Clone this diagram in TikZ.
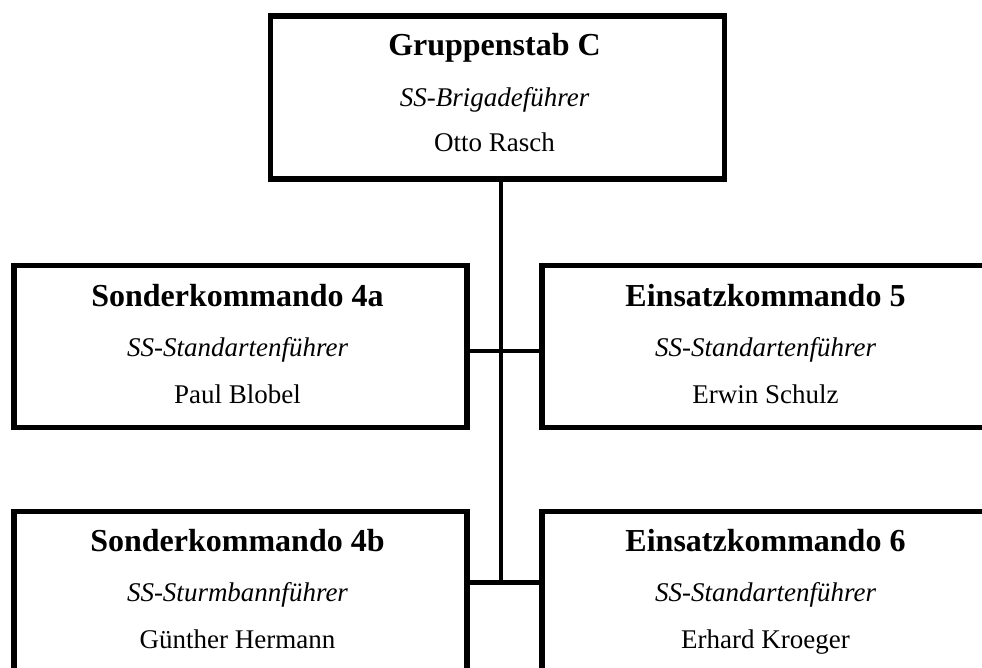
\documentclass[tikz,border=0pt]{standalone}
\usepackage{fontspec}
\setmainfont{Liberation Serif}
\begin{document}
\begin{tikzpicture}[x=1pt,y=-1pt,
  box/.style={draw,line width=5.5pt,minimum width=453pt,minimum height=161.5pt,inner sep=0pt,anchor=north west},
  unittitle/.style={anchor=base,inner sep=0pt,font=\fontsize{32}{38}\selectfont\bfseries},
  rank/.style={anchor=base,inner sep=0pt,font=\fontsize{27}{32}\selectfont\itshape},
  person/.style={anchor=base,inner sep=0pt,font=\fontsize{27}{32}\selectfont},
  link/.style={line width=4.3pt}]
\useasboundingbox(0,0)rectangle(982,668);
\clip(0,0)rectangle(982,668);
% boxes
\node[box,minimum width=454pt,minimum height=163pt](gs)at(267.5,13.3){};
\node[box](sk4a)at(11,263){};
\node[box](ek5)at(539,263){};
\node[box](sk4b)at(11,508.5){};
\node[box](ek6)at(539,508.5){};
% texts
\node[unittitle](gs-t)at(494.5,56){Gruppenstab C};
\node[rank](gs-r)at(494.5,107){SS-Brigadeführer};
\node[person](gs-p)at(494.5,152){Otto Rasch};
\node[unittitle](sk4a-t)at(237.5,306){Sonderkommando 4a};
\node[rank](sk4a-r)at(237.5,356){SS-Standartenführer};
\node[person](sk4a-p)at(237.5,403){Paul Blobel};
\node[unittitle](ek5-t)at(765.5,306){Einsatzkommando 5};
\node[rank](ek5-r)at(765.5,356){SS-Standartenführer};
\node[person](ek5-p)at(765.5,403){Erwin Schulz};
\node[unittitle](sk4b-t)at(237.5,551.5){Sonderkommando 4b};
\node[rank](sk4b-r)at(237.5,601.5){SS-Sturmbannführer};
\node[person](sk4b-p)at(237.5,648.5){Günther Hermann};
\node[unittitle](ek6-t)at(765.5,551.5){Einsatzkommando 6};
\node[rank](ek6-r)at(765.5,601.5){SS-Standartenführer};
\node[person](ek6-p)at(765.5,648.5){Erhard Kroeger};
% connectors
\coordinate(j1)at(501,351);
\coordinate(j2)at(501,582.5);
\draw[link](gs.south-|j1)--(j2);
\draw[link](sk4a.east|-j1)--(ek5.west|-j1);
\draw[link](sk4b.east|-j2)--(ek6.west|-j2);
\end{tikzpicture}
\end{document}
